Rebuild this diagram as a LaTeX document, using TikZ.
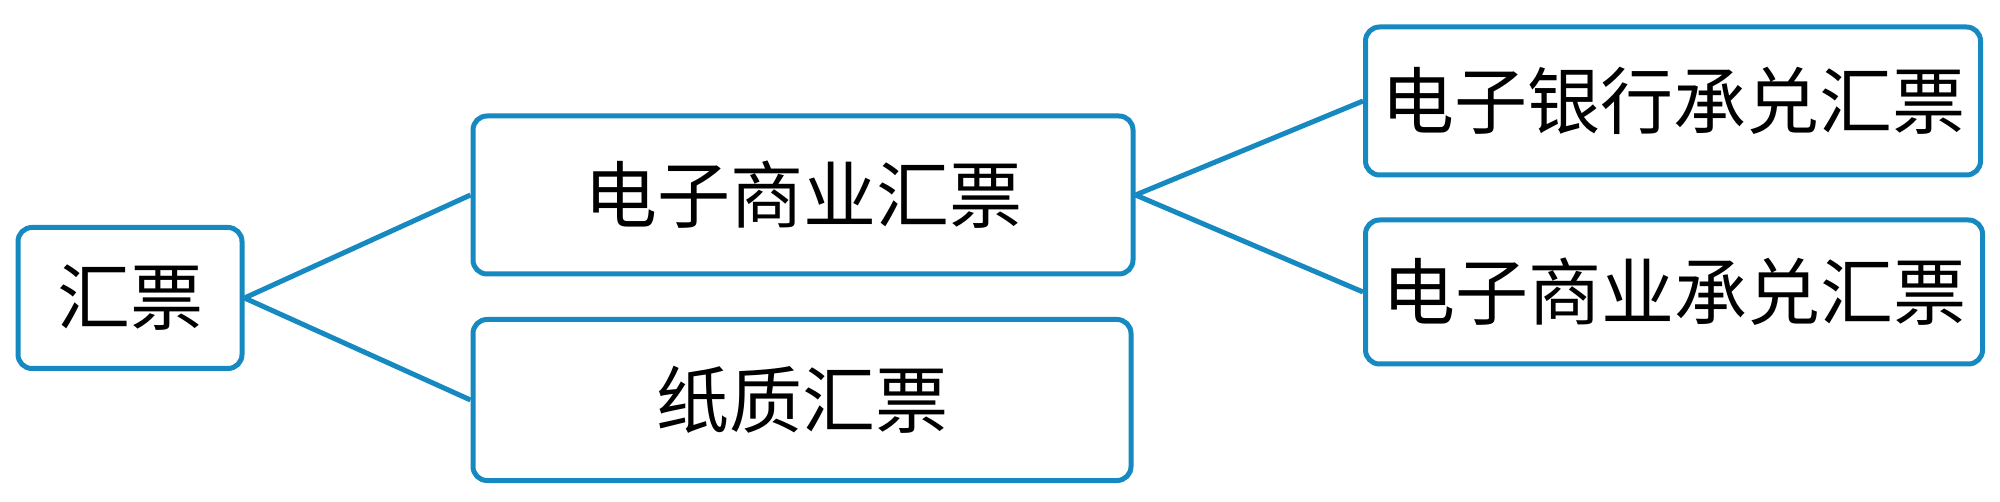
\documentclass[tikz,border=0pt]{standalone}
\usepackage{fontspec}
\newfontfamily\cjk{Noto Sans CJK SC}
\definecolor{boxblue}{RGB}{22,138,192}
\begin{document}
\begin{tikzpicture}[x=1pt,y=-1pt,
  box/.style={draw=boxblue,line width=5pt,rounded corners=14pt,inner sep=0pt,
    font=\cjk\fontsize{73}{80}\selectfont,align=center},
  conn/.style={draw=boxblue,line width=5pt}]
\useasboundingbox (0,0) rectangle (2000,502);
\node[box,minimum width=224pt,minimum height=141pt] (a) at (130,298) {\raisebox{3pt}{汇票}};
\node[box,minimum width=660pt,minimum height=158pt] (b) at (803,195) {\raisebox{3pt}{电子商业汇票}};
\node[box,minimum width=658pt,minimum height=161pt] (c) at (802,400) {\raisebox{3pt}{纸质汇票}};
\node[box,minimum width=615pt,minimum height=148pt] (d) at (1673,101) {\raisebox{3pt}{电子银行承兑汇票}};
\node[box,minimum width=617pt,minimum height=144pt] (e) at (1674,292) {\raisebox{3pt}{电子商业承兑汇票}};
\draw[conn] (a.east) -- (b.west);
\draw[conn] (a.east) -- (c.west);
\draw[conn] (b.east) -- (d.west);
\draw[conn] (b.east) -- (e.west);
\end{tikzpicture}
\end{document}
